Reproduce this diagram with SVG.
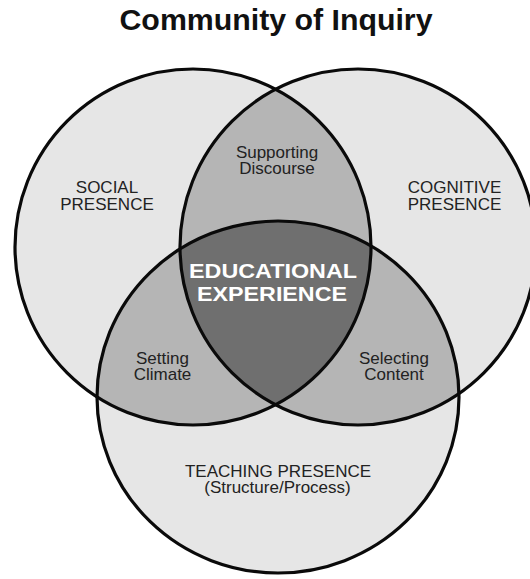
<svg xmlns="http://www.w3.org/2000/svg" width="530" height="579" viewBox="0 0 530 579">
  <style>
    .light { fill: #e6e6e6; }
    .mid { fill: #b5b5b5; }
    .dark { fill: #6f6f6f; }
    .ring { fill: none; stroke: #0a0a0a; stroke-width: 3.2; }
    .title { font-family: "Liberation Sans", Arial, sans-serif; font-weight: bold; font-size: 29px; fill: #111; text-anchor: middle; }
    .label { font-family: "Liberation Sans", Arial, sans-serif; font-size: 17px; fill: #222; text-anchor: middle; }
    .core { font-family: "Liberation Sans", Arial, sans-serif; font-weight: bold; font-size: 21px; fill: #ffffff; text-anchor: middle; }
  </style>
  <defs>
    <circle id="social" cx="193" cy="247" r="178"/>
    <circle id="cognitive" cx="358" cy="247" r="178"/>
    <ellipse id="teaching" cx="278" cy="397" rx="181" ry="176"/>
    <clipPath id="clipSocial"><use href="#social"/></clipPath>
    <clipPath id="clipCognitive"><use href="#cognitive"/></clipPath>
    <clipPath id="clipTeaching"><use href="#teaching"/></clipPath>
  </defs>

  <rect width="530" height="579" fill="#ffffff"/>

  <text class="title" x="276" y="30" textLength="313" lengthAdjust="spacingAndGlyphs">Community of Inquiry</text>

  <!-- base fills of the three presences -->
  <g id="fills">
    <use href="#social" class="light"/>
    <use href="#cognitive" class="light"/>
    <use href="#teaching" class="light"/>
    <!-- pairwise overlaps -->
    <g clip-path="url(#clipSocial)"><use href="#cognitive" class="mid"/></g>
    <g clip-path="url(#clipSocial)"><use href="#teaching" class="mid"/></g>
    <g clip-path="url(#clipCognitive)"><use href="#teaching" class="mid"/></g>
    <!-- triple overlap -->
    <g clip-path="url(#clipSocial)"><g clip-path="url(#clipCognitive)"><use href="#teaching" class="dark"/></g></g>
  </g>

  <!-- outlines -->
  <g id="social-presence">
    <use href="#social" class="ring"/>
    <text class="label" x="107" y="193">SOCIAL</text>
    <text class="label" x="107" y="209.5">PRESENCE</text>
  </g>
  <g id="cognitive-presence">
    <use href="#cognitive" class="ring"/>
    <text class="label" x="454.5" y="193">COGNITIVE</text>
    <text class="label" x="454.5" y="209.5">PRESENCE</text>
  </g>
  <g id="teaching-presence">
    <use href="#teaching" class="ring"/>
    <text class="label" x="278" y="477">TEACHING PRESENCE</text>
    <text class="label" x="277.5" y="493">(Structure/Process)</text>
  </g>

  <g id="supporting-discourse">
    <text class="label" x="277" y="158">Supporting</text>
    <text class="label" x="277" y="174">Discourse</text>
  </g>
  <g id="setting-climate">
    <text class="label" x="162.5" y="364">Setting</text>
    <text class="label" x="162.5" y="380">Climate</text>
  </g>
  <g id="selecting-content">
    <text class="label" x="394" y="364">Selecting</text>
    <text class="label" x="394" y="380">Content</text>
  </g>
  <g id="educational-experience">
    <text class="core" x="273" y="277.5" textLength="168" lengthAdjust="spacingAndGlyphs">EDUCATIONAL</text>
    <text class="core" x="272" y="301" textLength="150" lengthAdjust="spacingAndGlyphs">EXPERIENCE</text>
  </g>
</svg>
